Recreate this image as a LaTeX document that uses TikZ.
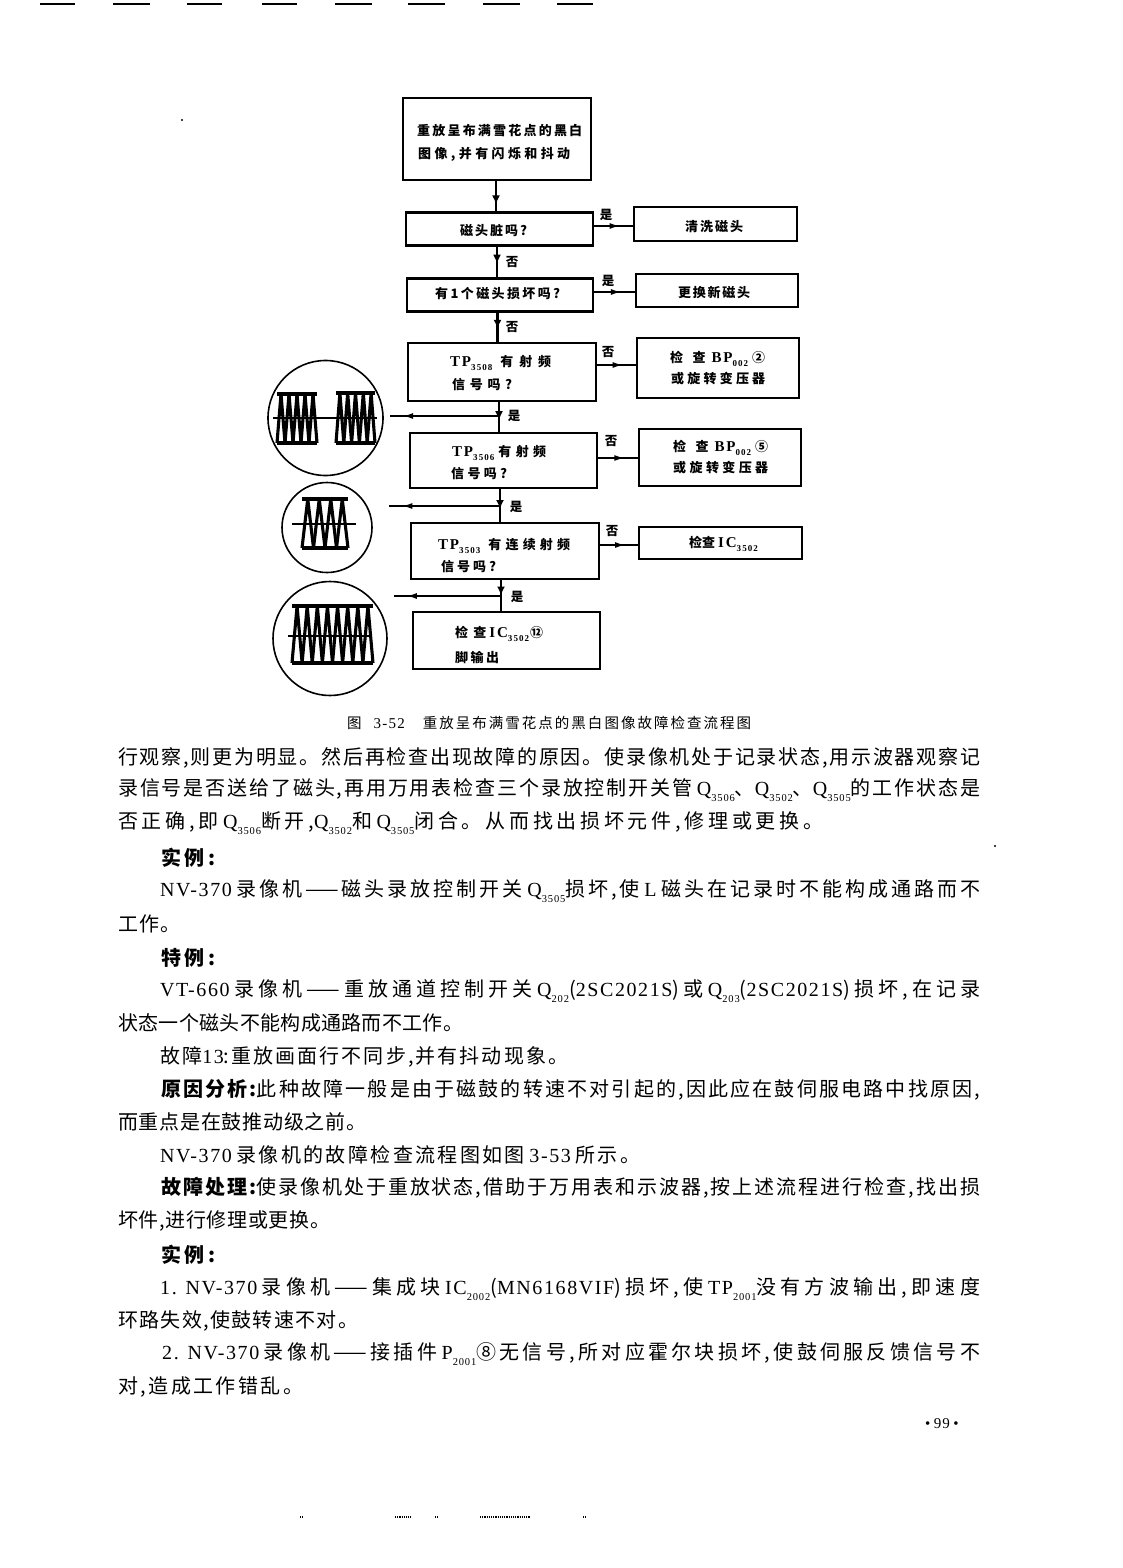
\documentclass[tikz,border=0pt]{standalone}
\usepackage{fontspec}
\setmainfont{Noto Sans CJK SC}
\newfontfamily\lat[LetterSpace=8]{Liberation Serif}
\newfontfamily\latw[LetterSpace=12]{Liberation Serif}
\usetikzlibrary{arrows.meta,decorations.markings}
\newcount\cjkcc
\cjkcc="4E00
\loop
  \XeTeXcharclass\cjkcc=1
  \ifnum\cjkcc<"9FFF \advance\cjkcc by 1
\repeat
\XeTeXcharclass"3001=1
\XeTeXcharclass"3002=1
\XeTeXinterchartokenstate=1
\XeTeXinterchartoks 1 1={\hskip 0pt plus 1fil\relax}
\XeTeXinterchartoks 1 0={\hskip 0pt plus 1fil\relax}
\XeTeXinterchartoks 0 1={\hskip 0pt plus 1fil\relax}
\newcommand\sbs[1]{\raisebox{-.3em}{\lat\fontsize{10.5}{10.5}\selectfont #1}}
\newcommand\sbf[1]{\raisebox{-.3em}{\latw\fontsize{9}{9}\selectfont #1}}
\newcommand\fl[1]{{\latw\fontsize{15}{15}\selectfont #1}}
\newcommand\bodyline[5]{\node[bodytext] (#1) at (#2,#3) {\makebox[#4pt][s]{#5}};}
\newcommand\flowline[5]{\node[flowtext] (#1) at (#2,#3) {\makebox[#4pt][s]{#5}};}
\newcommand\burst[5]{%
  \draw[wave] (#1,#3) -- (#2,#3);
  \draw[wave] (#1,#4) -- (#2,#4);
  \pgfmathsetmacro\dxb{(#2-#1)/#5}
  \foreach \i in {1,...,#5}{
    \draw[wave] ({#1+(\i-1)*\dxb},#4) -- ({#1+(\i-.5)*\dxb},#3) -- ({#1+\i*\dxb},#4);
  }}
\tikzset{
  flowbox/.style={draw=black,line width=2.3pt,inner sep=0pt,outer sep=0pt,fill=white},
  bodytext/.style={anchor=west,inner sep=0pt,yshift=-1pt,font=\fontsize{20}{24}\selectfont},
  flowtext/.style={anchor=west,inner sep=0pt,yshift=-1pt,font=\fontsize{13}{16}\bfseries\selectfont},
  mark label/.style={anchor=center,inner sep=0pt,font=\fontsize{12.5}{15}\bfseries\selectfont},
  conn/.style={line width=2.2pt,draw=black,postaction={decorate},
    decoration={markings,mark=at position #1 with {\arrow{Latex[length=9pt,width=8pt]}}}},
  conn/.default=0.55,
  thin conn/.style={line width=1.5pt,draw=black,postaction={decorate},
    decoration={markings,mark=at position #1 with {\arrow{Latex[length=10pt,width=6pt]}}}},
  thin conn/.default=0.65,
  scope circle/.style={draw=black,line width=1.6pt,circle,inner sep=0pt,outer sep=0pt},
  wave/.style={line width=3.1pt,draw=black,line join=bevel,line cap=butt},
  axisline/.style={line width=2pt,draw=black},
  speck/.style={line width=1.2pt,draw=black}
}
\begin{document}
\begin{tikzpicture}[x=1pt,y=-1pt]
\useasboundingbox[fill=white] (0,0) rectangle (1122,1568);
% scan marks
\foreach \a/\b in {40/75,113/150,187/222,262/297,335/372,408/445,483/520,557/593}{
  \draw[speck] (\a,4) -- (\b,4);}
\foreach \a/\b in {300/303,395/411,435/438,480/530,583/586}{
  \draw[speck,densely dotted] (\a,1517) -- (\b,1517);}
\fill (182,120) circle (1.2);
\fill (995,846) circle (1.2);
% main column boxes
\node[flowbox,minimum width=188pt,minimum height=82pt] (b1) at (497,139) {};
\node[flowbox,minimum width=187pt,minimum height=33pt] (b2) at (499.5,229) {};
\node[flowbox,minimum width=186pt,minimum height=33pt] (b3) at (500,295) {};
\node[flowbox,minimum width=188pt,minimum height=58pt] (b4) at (502,372) {};
\node[flowbox,minimum width=187pt,minimum height=55pt] (b5) at (503.5,460.5) {};
\node[flowbox,minimum width=188pt,minimum height=56pt] (b6) at (505,551) {};
\node[flowbox,minimum width=187pt,minimum height=57pt] (b7) at (506.5,640.5) {};
% right boxes
\node[flowbox,minimum width=163pt,minimum height=34pt] (r1) at (715.5,224) {};
\node[flowbox,minimum width=162pt,minimum height=33pt] (r2) at (717,290.5) {};
\node[flowbox,minimum width=162pt,minimum height=60pt] (r3) at (718,368) {};
\node[flowbox,minimum width=162pt,minimum height=57pt] (r4) at (720,457.5) {};
\node[flowbox,minimum width=163pt,minimum height=32pt] (r5) at (720.5,543) {};
% box texts
\flowline{t1a}{417}{130}{165}{重放呈布满雪花点的黑白}
\flowline{t1b}{418}{153}{152}{图像,并有闪烁和抖动}
\flowline{t2}{460}{230}{67}{磁头脏吗?}
\flowline{t3}{435}{293}{125}{有1个磁头损坏吗?}
\flowline{t4a}{450}{362}{101}{\fl{TP}\sbf{3508}\hskip 8pt 有射频}
\flowline{t4b}{452}{384}{60}{信号吗?}
\flowline{t5a}{452}{452}{94}{\fl{TP}\sbf{3506}\hskip 4pt 有射频}
\flowline{t5b}{451}{473}{56}{信号吗?}
\flowline{t6a}{438}{545}{132}{\fl{TP}\sbf{3503}\hskip 8pt 有连续射频}
\flowline{t6b}{441}{566}{55}{信号吗?}
\flowline{t7a}{455}{633}{88}{检查\hskip 3pt\fl{IC}\sbf{3502}\hskip 1pt⑫}
\flowline{t7b}{455}{656}{44}{脚输出}
\flowline{u1}{685}{226}{58}{清洗磁头}
\flowline{u2}{678}{292}{72}{更换新磁头}
\flowline{u3a}{670}{358}{95}{检查\hskip 6pt\fl{BP}\sbf{002}\hskip 4pt ②}
\flowline{u3b}{671}{378}{94}{或旋转变压器}
\flowline{u4a}{673}{447}{95}{检查\hskip 6pt\fl{BP}\sbf{002}\hskip 4pt ⑤}
\flowline{u4b}{673}{467}{95}{或旋转变压器}
\flowline{u5}{689}{543}{66}{检查\hskip 3pt\fl{IC}\sbf{3502}}
% junction guides
\coordinate (j1) at (496,0);
\coordinate (j2) at (497,0);
\coordinate (j3) at (497.5,0);
\coordinate (j4) at (499,0);
\coordinate (j5) at (500,0);
\coordinate (j6) at (501,0);
% vertical connectors
\draw[conn=0.75] (b1.south -| j1) -- (b2.north -| j1);
\draw[conn] (b2.south -| j2) -- (b3.north -| j2);
\draw[conn] (b3.south -| j3) -- (b4.north -| j3);
\draw[conn=0.6] (b4.south -| j4) -- (b5.north -| j4);
\draw[conn=0.6] (b5.south -| j5) -- (b6.north -| j5);
\draw[conn=0.5] (b6.south -| j6) -- (b7.north -| j6);
% horizontal connectors
\coordinate (h1) at (0,226);
\coordinate (h2) at (0,292);
\coordinate (h3) at (0,365);
\coordinate (h4) at (0,458);
\coordinate (h5) at (0,545);
\draw[thin conn] (b2.east |- h1) -- (r1.west |- h1);
\draw[thin conn] (b3.east |- h2) -- (r2.west |- h2);
\draw[thin conn] (b4.east |- h3) -- (r3.west |- h3);
\draw[thin conn] (b5.east |- h4) -- (r4.west |- h4);
\draw[thin conn] (b6.east |- h5) -- (r5.west |- h5);
% branch labels
\node[mark label] (m1) at (606,215) {是};
\node[mark label] (m2) at (512,262) {否};
\node[mark label] (m3) at (608,281) {是};
\node[mark label] (m4) at (512,327) {否};
\node[mark label] (m5) at (608,352) {否};
\node[mark label] (m6) at (514,416) {是};
\node[mark label] (m7) at (611,441) {否};
\node[mark label] (m8) at (516,507) {是};
\node[mark label] (m9) at (612,531) {否};
\node[mark label] (m10) at (517,597) {是};
% oscilloscope circles
\node[scope circle,minimum size=115pt] (c1) at (325.5,418) {};
\node[scope circle,minimum size=90pt] (c2) at (327,527.5) {};
\node[scope circle,minimum size=114pt] (c3) at (330,638.5) {};
\burst{277}{317}{394}{443}{5}
\burst{336}{375}{393}{443}{5}
\draw[axisline] (273,418) -- (377,418);
\burst{302}{348}{499}{548}{4}
\draw[axisline] (292,524) -- (356,524);
\burst{292}{373}{606}{663}{8}
\draw[axisline] (288,636) -- (372,636);
% feeds to the circles
\coordinate (f1) at (390,416);
\coordinate (f2) at (389,506);
\coordinate (f3) at (394,596);
\coordinate (d1) at (499,416);
\coordinate (d2) at (500,506);
\coordinate (d3) at (501,596);
\draw[thin conn=0.88] (d1) -- (f1);
\draw[thin conn=0.88] (d2) -- (f2);
\draw[thin conn=0.88] (d3) -- (f3);
% caption
\node[anchor=west,inner sep=0pt,font=\fontsize{14.5}{16}\selectfont] (cap) at (347,723)
  {\makebox[404pt][s]{图\hskip 12pt{\lat\fontsize{15}{15}\selectfont 3-52}\hskip 18pt 重放呈布满雪花点的黑白图像故障检查流程图}};
% body text
\bodyline{l1}{118}{757}{862}{行观察,则更为明显。然后再检查出现故障的原因。使录像机处于记录状态,用示波器观察记}
\bodyline{l2}{118}{789}{862}{录信号是否送给了磁头,再用万用表检查三个录放控制开关管 {\lat Q}\sbs{3506}、{\lat Q}\sbs{3502}、{\lat Q}\sbs{3505}的工作状态是}
\bodyline{l3}{118}{822}{705}{否正确,即 {\lat Q}\sbs{3506}断开,{\lat Q}\sbs{3502}和 {\lat Q}\sbs{3505}闭合。从而找出损坏元件,修理或更换。}
\bodyline{l4}{161}{857}{54}{\bfseries 实例:}
\bodyline{l5}{160}{890}{820}{{\lat NV-370} 录像机——磁头录放控制开关 {\lat Q}\sbs{3505}损坏,使 {\lat L} 磁头在记录时不能构成通路而不}
\bodyline{l6}{118}{923}{62}{工作。}
\bodyline{l7}{161}{957}{54}{\bfseries 特例:}
\bodyline{l8}{160}{990}{820}{{\lat VT-660} 录像机——重放通道控制开关 {\lat Q}\sbs{202}({\lat 2SC2021S})或 {\lat Q}\sbs{203}({\lat 2SC2021S})损坏,在记录}
\bodyline{l9}{118}{1022}{345}{状态一个磁头不能构成通路而不工作。}
\bodyline{l10}{160}{1056}{408}{故障{\lat 13}:重放画面行不同步,并有抖动现象。}
\bodyline{l11}{161}{1089}{819}{{\bfseries 原因分析:}此种故障一般是由于磁鼓的转速不对引起的,因此应在鼓伺服电路中找原因,}
\bodyline{l12}{118}{1121}{248}{而重点是在鼓推动级之前。}
\bodyline{l13}{160}{1154}{480}{{\lat NV-370} 录像机的故障检查流程图如图 {\lat 3-53} 所示。}
\bodyline{l14}{161}{1187}{819}{{\bfseries 故障处理:}使录像机处于重放状态,借助于万用表和示波器,按上述流程进行检查,找出损}
\bodyline{l15}{118}{1220}{212}{坏件,进行修理或更换。}
\bodyline{l16}{161}{1254}{54}{\bfseries 实例:}
\bodyline{l17}{160}{1288}{820}{{\lat 1. NV-370} 录像机——集成块 {\lat IC}\sbs{2002}({\lat MN6168VIF})损坏,使 {\lat TP}\sbs{2001}没有方波输出,即速度}
\bodyline{l18}{118}{1320}{240}{环路失效,使鼓转速不对。}
\bodyline{l19}{162}{1353}{818}{{\lat 2. NV-370} 录像机——接插件 {\lat P}\sbs{2001}⑧无信号,所对应霍尔块损坏,使鼓伺服反馈信号不}
\bodyline{l20}{118}{1386}{185}{对,造成工作错乱。}
\node[anchor=west,inner sep=0pt,font=\fontsize{15}{18}\selectfont] (pg) at (925,1424) {\makebox[31pt][s]{\lat • 99 •}};
\end{tikzpicture}
\end{document}
